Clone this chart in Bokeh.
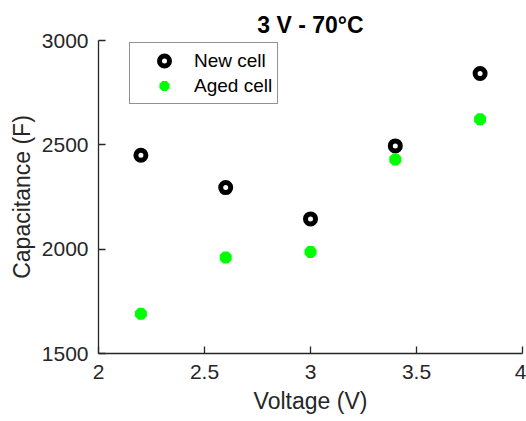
from bokeh.plotting import figure
from bokeh.models import Range1d, FixedTicker, Legend, LegendItem
from bokeh.embed import file_html
from bokeh.resources import INLINE

voltage = [2.2, 2.6, 3.0, 3.4, 3.8]
new_cell = [2450, 2295, 2145, 2495, 2842]
aged_cell = [1690, 1960, 1987, 2430, 2623]
x_ticks = [2, 2.5, 3, 3.5, 4]
y_ticks = [1500, 2000, 2500, 3000]

FONT = "Liberation Sans"
AX = "#262626"

p = figure(width=526, height=421, output_backend="svg", toolbar_location=None,
           x_range=Range1d(2, 4), y_range=Range1d(1500, 3000),
           min_border_left=98, min_border_right=4, min_border_top=40, min_border_bottom=68)
p.background_fill_color = "white"
p.border_fill_color = "white"
p.outline_line_color = None
p.grid.visible = False

p.title.text = "3 V - 70\u00b0C"
p.title.text_font = FONT
p.title.text_font_size = "23px"
p.title.text_font_style = "bold"
p.title.align = "center"
p.title.text_color = "black"
p.title.standoff = 5

for ax in (p.xaxis[0], p.yaxis[0]):
    ax.axis_line_color = AX
    ax.axis_line_width = 1.3
    ax.major_tick_line_color = AX
    ax.major_tick_line_width = 1.3
    ax.major_tick_in = 7
    ax.major_tick_out = 0
    ax.minor_tick_line_color = None
    ax.major_label_text_font = FONT
    ax.major_label_text_font_size = "21px"
    ax.major_label_text_color = AX
    ax.axis_label_text_font = FONT
    ax.axis_label_text_font_size = "23px"
    ax.axis_label_text_font_style = "normal"
    ax.axis_label_text_color = AX

p.xaxis.ticker = FixedTicker(ticks=x_ticks)
p.yaxis.ticker = FixedTicker(ticks=y_ticks)
p.xaxis.major_label_overrides = {2: "2", 2.5: "2.5", 3: "3", 3.5: "3.5", 4: "4"}
p.xaxis.axis_label = "Voltage (V)"
p.yaxis.axis_label = "Capacitance (F)"
p.xaxis.major_label_standoff = 11
p.xaxis.axis_label_standoff = 6
p.yaxis.major_label_standoff = 10
p.yaxis.axis_label_standoff = 4

r_new = p.scatter(voltage, new_cell, marker="circle", size=10, fill_color="white",
                  line_color="black", line_width=5)
r_aged = p.scatter(voltage, aged_cell, marker="asterisk", size=12,
                   line_color="#00ff00", line_width=5)

legend = Legend(items=[LegendItem(label="New cell", renderers=[r_new]),
                       LegendItem(label="Aged cell", renderers=[r_aged])],
                location=(31, 249))
legend.label_text_font = FONT
legend.label_text_font_size = "19px"
legend.label_text_color = "black"
legend.border_line_color = AX
legend.border_line_width = 1
legend.background_fill_color = "white"
legend.background_fill_alpha = 1
legend.padding = 5
legend.spacing = 0
legend.margin = 0
legend.glyph_width = 58
legend.glyph_height = 25
legend.label_height = 25
legend.label_standoff = 1
p.add_layout(legend, "center")

open("out.html", "w").write(file_html(p, INLINE))
